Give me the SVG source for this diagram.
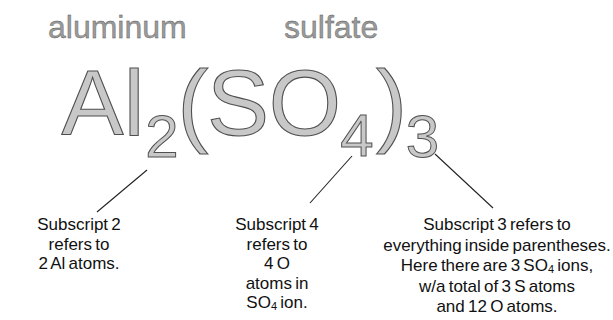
<svg xmlns="http://www.w3.org/2000/svg" width="613" height="320" viewBox="0 0 613 320">
<style>
.name{font-family:"Liberation Sans",Arial,sans-serif;font-size:32px;fill:#9a9a9a;stroke:#555;stroke-width:0.35}
.big{font-family:"Liberation Sans",Arial,sans-serif;font-size:93px;fill:#c8c8c8;stroke:#505050;stroke-width:1.1;text-anchor:middle}
.sub{font-family:"Liberation Sans",Arial,sans-serif;font-size:60px;fill:#c8c8c8;stroke:#505050;stroke-width:1;text-anchor:middle}
.note{font-family:"Liberation Sans",Arial,sans-serif;font-size:17px;fill:#111;text-anchor:middle;word-spacing:-1.5px}
.sm{font-size:11px}
.conn line{stroke:#222;stroke-width:1.1}
</style>
<rect width="613" height="320" fill="#fff"/>
<g id="labels">
<text class="name" x="48" y="38">aluminum</text>
<text class="name" x="284" y="38">sulfate</text>
</g>
<g id="formula">
<text class="big" x="92.5" y="135">A</text>
<text class="big" x="134" y="135">l</text>
<text class="sub" x="162" y="157">2</text>
<text class="big" x="193" y="135">(</text>
<text class="big" x="238" y="135">S</text>
<text class="big" x="305" y="135">O</text>
<text class="sub" x="357" y="156">4</text>
<text class="big" x="391.5" y="135">)</text>
<text class="sub" x="422.5" y="157">3</text>
</g>
<g class="conn" id="connectors">
<line x1="147" y1="170" x2="97" y2="212"/>
<line x1="352" y1="156" x2="310" y2="203"/>
<line x1="435" y1="154" x2="493" y2="208"/>
</g>
<g id="note1">
<text class="note" x="79" y="230">Subscript 2</text>
<text class="note" x="79" y="249.5">refers to</text>
<text class="note" x="79" y="269">2 Al atoms.</text>
</g>
<g id="note2">
<text class="note" x="277" y="230">Subscript 4</text>
<text class="note" x="277" y="249.5">refers to</text>
<text class="note" x="277" y="269">4 O</text>
<text class="note" x="277" y="288.5">atoms in</text>
<text class="note" x="277" y="308">SO<tspan class="sm" dy="2">4</tspan><tspan dy="-2"> ion.</tspan></text>
</g>
<g id="note3">
<text class="note" x="497" y="230">Subscript 3 refers to</text>
<text class="note" x="497" y="250.5">everything inside parentheses.</text>
<text class="note" x="497" y="271">Here there are 3 SO<tspan class="sm" dy="2">4</tspan><tspan dy="-2"> ions,</tspan></text>
<text class="note" x="497" y="291.5">w/a total of 3 S atoms</text>
<text class="note" x="497" y="312">and 12 O atoms.</text>
</g>
</svg>
